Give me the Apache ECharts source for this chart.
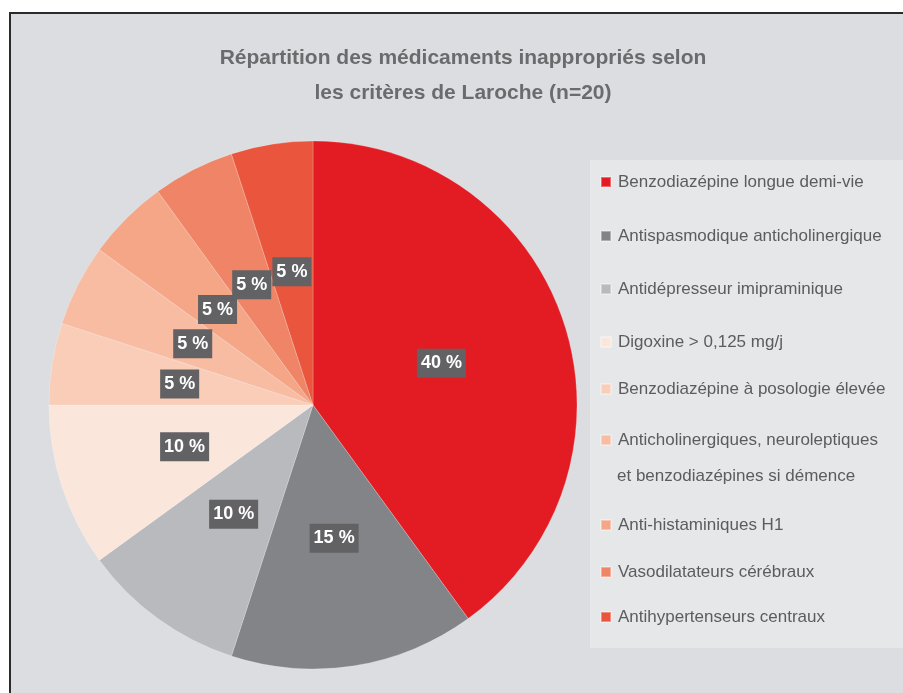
<!DOCTYPE html>
<html>
<head>
<meta charset="utf-8">
<script src="https://cdn.jsdelivr.net/npm/echarts@6/dist/echarts.min.js"></script>
<style>
  html, body { margin: 0; padding: 0; background: #fff; }
  #chart { width: 903px; height: 693px; }
</style>
</head>
<body>
<div id="chart"></div>
<script>
const categories = [
  "Benzodiazépine longue demi-vie",
  "Antispasmodique anticholinergique",
  "Antidépresseur imipraminique",
  "Digoxine > 0,125 mg/j",
  "Benzodiazépine à posologie élevée",
  "Anticholinergiques, neuroleptiques\net benzodiazépines si démence",
  "Anti-histaminiques H1",
  "Vasodilatateurs cérébraux",
  "Antihypertenseurs centraux",
];
const values = [40, 15, 10, 10, 5, 5, 5, 5, 5];
const colors = [
  "#e31b23", "#838488", "#b9babd", "#fbe6dc", "#f9cdb8",
  "#f7bca2", "#f4a687", "#ef8466", "#e9563d",
];
// centre line of each legend entry (first text line), measured on the picture
const legendY = [181, 235, 288, 341, 388, 439, 524, 571, 616];

const chart = echarts.init(document.getElementById("chart"));

const legendFont = {
  fontFamily: "Liberation Sans",
  fontSize: 17,
  color: "#5c5c5c",
};

// legend shows the first line of each name; wrapped lines are drawn below
const legends = categories.map((name, i) => ({
  data: [name],
  orient: "vertical",
  left: 595,
  top: legendY[i] - 14,
  itemWidth: 10,
  itemHeight: 10,
  itemGap: 0,
  icon: "rect",
  selectedMode: false,
  formatter: (n) => n.split("\n")[0],
  textStyle: { ...legendFont, lineHeight: 20, padding: [0, 0, 0, 2] },
}));

const extraLines = [];
categories.forEach((name, i) => {
  name.split("\n").slice(1).forEach((line, k) => {
    extraLines.push({
      type: "text",
      left: 617,
      top: legendY[i] + 38 * (k + 1) - 9,
      style: { text: line, font: "17px 'Liberation Sans'", fill: legendFont.color },
    });
  });
});

const option = {
  backgroundColor: "#fff",
  color: colors,
  graphic: [
    {
      type: "rect",
      shape: { x: 10, y: 13, width: 900, height: 690 },
      style: { fill: "#dcdde0", stroke: "#2b2b2b", lineWidth: 2 },
      z: -10,
    },
    {
      type: "rect",
      shape: { x: 590, y: 160, width: 320, height: 488 },
      style: { fill: "#e6e7e9" },
      z: -9,
    },
    ...extraLines,
  ],
  title: {
    text: "Répartition des médicaments inappropriés selon\nles critères de Laroche (n=20)",
    left: 458,
    textAlign: "center",
    top: 36,
    textStyle: {
      fontFamily: "Liberation Sans",
      fontSize: 21,
      fontWeight: "bold",
      color: "#6b6b6d",
      lineHeight: 35,
    },
  },
  legend: legends,
  series: [
    {
      type: "pie",
      center: [313, 405],
      radius: 264,
      startAngle: 90,
      clockwise: true,
      silent: true,
      itemStyle: { borderColor: "rgba(255,255,255,0.35)", borderWidth: 0.6 },
      label: {
        position: "inside",
        formatter: "{c} %",
        fontFamily: "Liberation Sans",
        fontSize: 18,
        fontWeight: "bold",
        color: "#fff",
        backgroundColor: "#626264",
        padding: [6, 4, 5, 4],
      },
      labelLayout: { hideOverlap: false },
      labelLine: { show: false },
      data: categories.map((name, i) => ({ name, value: values[i] })),
    },
  ],
};

chart.setOption(option);
</script>
</body>
</html>
